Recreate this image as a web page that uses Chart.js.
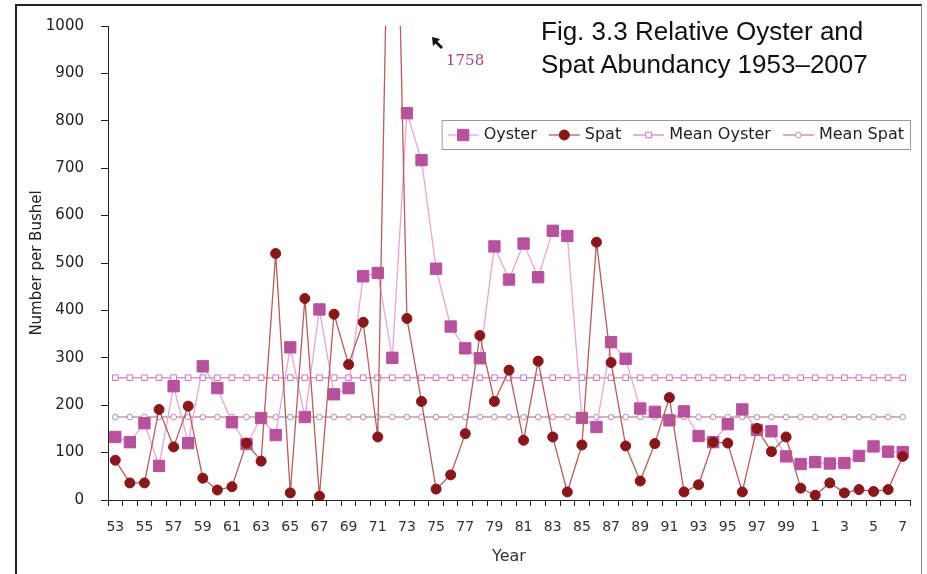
<!DOCTYPE html>
<html>
<head>
<meta charset="utf-8">
<script src="https://cdn.jsdelivr.net/npm/chart.js@4/dist/chart.umd.min.js"></script>
<style>
  html, body { margin: 0; padding: 0; background: #fff; }
  #wrap { position: relative; width: 927px; height: 574px; }
  #title { position: absolute; left: 541px; top: 15px; font: 26px "Liberation Sans", Arial, sans-serif; line-height: 33px; color: #111; }
</style>
</head>
<body>
<div id="wrap">
  <canvas id="chart" width="927" height="574"></canvas>
  <div id="title">Fig. 3.3 Relative Oyster and<br>Spat Abundancy 1953–2007</div>
</div>
<script>
const years = ['53','54','55','56','57','58','59','60','61','62','63','64','65','66','67','68','69','70','71','72',
  '73','74','75','76','77','78','79','80','81','82','83','84','85','86','87','88','89','90','91','92',
  '93','94','95','96','97','98','99','0','1','2','3','4','5','6','7'];
const oyster = [133,122,162,72,240,120,282,236,164,118,173,137,322,175,402,223,236,472,479,300,
  816,717,488,366,320,299,535,465,541,470,568,557,173,154,333,298,193,186,168,187,
  135,122,160,191,148,145,92,76,80,77,78,93,113,102,101];
const spat = [84,36,36,191,112,198,46,21,28,120,82,520,15,425,8,392,286,375,133,1758,
  383,208,23,53,140,347,208,274,126,293,133,17,116,544,290,114,40,119,216,17,
  32,122,120,17,151,102,133,25,10,36,15,22,18,22,92];
const meanOyster = 258;
const meanSpat = 175;
const spatPeakLabel = '1758';

const tickFont = { family: 'DejaVu Sans', size: 14 };

const frame = {
  id: 'frame',
  beforeDraw(chart) {
    const ctx = chart.ctx;
    ctx.save();
    ctx.fillStyle = '#fff';
    ctx.fillRect(0, 0, chart.width, chart.height);
    ctx.strokeStyle = '#222';
    ctx.lineWidth = 2;
    ctx.beginPath();
    ctx.moveTo(16, 574); ctx.lineTo(16, 5); ctx.lineTo(922, 5);
    ctx.stroke();
    ctx.strokeStyle = '#888';
    ctx.lineWidth = 1;
    ctx.beginPath();
    ctx.moveTo(921.5, 5); ctx.lineTo(921.5, 574);
    ctx.stroke();
    ctx.restore();
  }
};

// "1758" note with its little arrow, for the spat value that runs off the axis
const peakNote = {
  id: 'peakNote',
  afterDraw(chart) {
    const ctx = chart.ctx;
    ctx.save();
    ctx.fillStyle = '#111';
    ctx.beginPath();
    ctx.moveTo(432, 37); ctx.lineTo(440, 39); ctx.lineTo(437.5, 41.5);
    ctx.lineTo(443, 47); ctx.lineTo(441, 49); ctx.lineTo(435.5, 43.5);
    ctx.lineTo(433, 46); ctx.closePath();
    ctx.fill();
    ctx.fillStyle = '#A5458A';
    ctx.font = '15px "DejaVu Serif"';
    ctx.textBaseline = 'middle';
    ctx.fillText(spatPeakLabel, 446, 61);
    ctx.restore();
  }
};

// legend boxed inside the plot, top right
const boxLegend = {
  id: 'boxLegend',
  afterDraw(chart) {
    const ctx = chart.ctx;
    const sets = chart.data.datasets;
    ctx.save();
    ctx.font = '16px "DejaVu Sans"';
    const seg = 31, gapText = 5, gapItem = 12;
    let w = 6;
    sets.forEach(d => { w += seg + gapText + ctx.measureText(d.label).width + gapItem; });
    w -= gapItem - 6;
    const right = 910, top = 120, h = 29;
    const left = right - w;
    ctx.fillStyle = '#fff';
    ctx.fillRect(left, top, w, h);
    ctx.strokeStyle = '#999';
    ctx.lineWidth = 1;
    ctx.strokeRect(left + 0.5, top + 0.5, w, h);
    let x = left + 6;
    const cy = top + h / 2 + 0.5;
    sets.forEach(d => {
      ctx.strokeStyle = d.borderColor;
      ctx.lineWidth = d.borderWidth;
      ctx.beginPath(); ctx.moveTo(x, cy); ctx.lineTo(x + seg, cy); ctx.stroke();
      ctx.fillStyle = d.pointBackgroundColor;
      ctx.strokeStyle = d.pointBorderColor;
      ctx.beginPath();
      const r = d.pointRadius;
      if (d.pointStyle === 'rect') {
        const s = Math.SQRT1_2 * r;
        ctx.rect(x + seg / 2 - s, cy - s, 2 * s, 2 * s);
      } else {
        ctx.arc(x + seg / 2, cy, r, 0, Math.PI * 2);
      }
      ctx.fill();
      ctx.lineWidth = d.pointBorderWidth;
      ctx.stroke();
      x += seg + gapText;
      ctx.fillStyle = '#222';
      ctx.textBaseline = 'middle';
      ctx.fillText(d.label, x, cy);
      x += ctx.measureText(d.label).width + gapItem;
    });
    ctx.restore();
  }
};

new Chart(document.getElementById('chart'), {
  type: 'line',
  data: {
    labels: years,
    datasets: [
      { label: 'Oyster', data: oyster, order: 1,
        borderColor: '#E6A6D8', borderWidth: 1.3,
        pointStyle: 'rect', pointRadius: 8, pointBackgroundColor: '#B8509E', pointBorderColor: '#B8509E', pointBorderWidth: 1 },
      { label: 'Spat', data: spat, order: 0,
        borderColor: '#B55E5C', borderWidth: 1.3,
        pointStyle: 'circle', pointRadius: 5, pointBackgroundColor: '#8B1517', pointBorderColor: '#8B1517', pointBorderWidth: 1 },
      { label: 'Mean Oyster', data: years.map(() => meanOyster), order: 2,
        borderColor: '#DE98CF', borderWidth: 1.5,
        pointStyle: 'rect', pointRadius: 4, pointBackgroundColor: '#fff', pointBorderColor: '#CF74BE', pointBorderWidth: 1 },
      { label: 'Mean Spat', data: years.map(() => meanSpat), order: 3,
        borderColor: '#C79A98', borderWidth: 1.5,
        pointStyle: 'circle', pointRadius: 2.8, pointBackgroundColor: '#fff', pointBorderColor: '#B488C6', pointBorderWidth: 1 }
    ]
  },
  options: {
    responsive: false,
    animation: false,
    layout: { padding: { left: 28, top: 25, right: 17, bottom: 0 } },
    plugins: { legend: { display: false }, tooltip: { enabled: false } },
    elements: { line: { tension: 0 } },
    scales: {
      x: {
        type: 'category',
        offset: true,
        afterFit: s => { s.height = 74; },
        grid: { drawOnChartArea: false, offset: true, tickLength: 6, color: '#222' },
        border: { color: '#222', width: 1 },
        ticks: {
          autoSkip: false, maxRotation: 0, padding: 13, color: '#333', font: tickFont,
          callback(v, i) { return i % 2 === 0 ? this.getLabelForValue(v) : ''; }
        },
        title: { display: true, text: 'Year', color: '#333', font: { family: 'DejaVu Sans', size: 16 }, padding: { top: 0, bottom: 8 } }
      },
      y: {
        min: 0, max: 1000,
        afterFit: s => { s.width = 80; },
        grid: { drawOnChartArea: false, tickLength: 7, color: '#222' },
        border: { color: '#222', width: 1 },
        ticks: { stepSize: 100, padding: 17, color: '#222', font: { family: 'DejaVu Sans', size: 15 }, callback: v => String(v) },
        title: { display: true, text: 'Number per Bushel', color: '#222', font: { family: 'DejaVu Sans', size: 15 }, padding: 0 }
      }
    }
  },
  plugins: [frame, peakNote, boxLegend]
});
</script>
</body>
</html>
